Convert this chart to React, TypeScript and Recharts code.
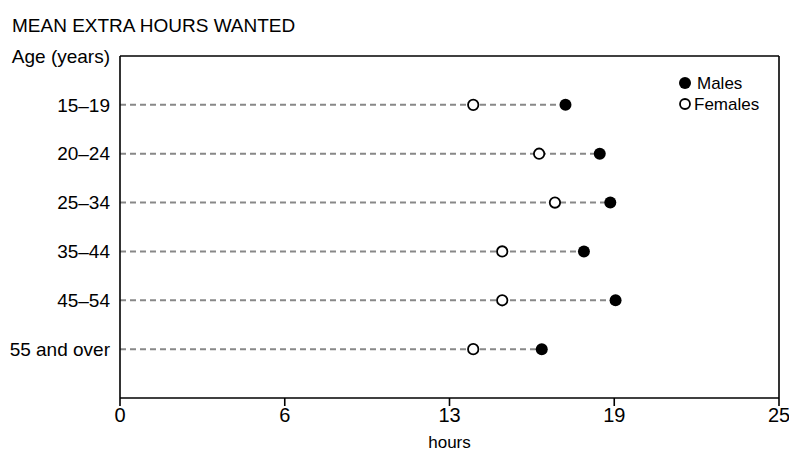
import React from 'react';
import { ScatterChart, Scatter, XAxis, YAxis, ReferenceLine, Legend } from 'recharts';

// values
const ageGroups = ['15–19', '20–24', '25–34', '35–44', '45–54', '55 and over'];
const malesHours = [16.9, 18.2, 18.6, 17.6, 18.8, 16.0];
const femalesHours = [13.4, 15.9, 16.5, 14.5, 14.5, 13.4];
const seriesNames = ['Males', 'Females'];
const hourTicks = [0, 6.25, 12.5, 18.75, 25];
const hourTickLabels = ['0', '6', '13', '19', '25'];
const ageAxisTitle = 'Age (years)';
const chartTitle = 'MEAN EXTRA HOURS WANTED';

const W = 789;
const H = 452;
const FONT = '"Liberation Sans", Arial, sans-serif';
const AXIS = { stroke: '#000', strokeWidth: 1.6 };

// row 0 holds the axis title, rows 1..n the age groups
const males = malesHours.map((hours, i) => ({ hours, row: i + 1 }));
const females = femalesHours.map((hours, i) => ({ hours, row: i + 1 }));
const rowTicks = [0, ...ageGroups.map((_, i) => i + 1)];

const MaleDot = (p: any) => <circle cx={p.cx} cy={p.cy} r={6} fill="#000" />;
const FemaleDot = (p: any) => (
    <circle cx={p.cx} cy={p.cy} r={5.2} fill="#fff" stroke="#000" strokeWidth={1.8} />
);

const LegendContent = (props: any) => {
    const items = [...(props.payload || [])].sort(
        (a: any, b: any) => seriesNames.indexOf(a.value) - seriesNames.indexOf(b.value)
    );
    return (
        <svg width={110} height={44} style={{ display: 'block' }}>
            {items.map((entry: any, i: number) => {
                const cy = 13 + i * 21;
                const isMale = entry.value === seriesNames[0];
                return (
                    <g key={entry.value}>
                        {isMale ? (
                            <circle cx={13} cy={cy} r={6} fill="#000" />
                        ) : (
                            <circle cx={13} cy={cy} r={5} fill="#fff" stroke="#000" strokeWidth={1.8} />
                        )}
                        <text
                            x={isMale ? 25 : 22}
                            y={cy}
                            dy="0.36em"
                            fontSize={17}
                            fontFamily={FONT}
                            fill="#000"
                        >
                            {entry.value}
                        </text>
                    </g>
                );
            })}
        </svg>
    );
};

export default function App() {
    return (
        <div style={{ position: 'absolute', left: 0, top: 0, width: W, height: H, background: '#fff' }}>
            <div
                style={{
                    position: 'absolute',
                    left: 12,
                    top: 16,
                    fontFamily: FONT,
                    fontSize: 19,
                    lineHeight: '20px',
                    color: '#000',
                    whiteSpace: 'nowrap',
                }}
            >
                {chartTitle}
            </div>
            <ScatterChart width={W} height={H} margin={{ top: 0, right: 9, bottom: 0, left: 0 }}>
                <XAxis
                    xAxisId="b"
                    type="number"
                    dataKey="hours"
                    domain={[0, 25]}
                    ticks={hourTicks}
                    tickFormatter={(_v: number, i: number) => hourTickLabels[i]}
                    height={54}
                    axisLine={AXIS}
                    tickLine={AXIS}
                    tickSize={8}
                    tickMargin={2}
                    tick={{ fill: '#000', fontSize: 20, fontFamily: FONT }}
                    label={{ value: 'hours', position: 'insideBottom', offset: 4, fill: '#000', fontSize: 17, fontFamily: FONT }}
                />
                <XAxis
                    xAxisId="t"
                    orientation="top"
                    type="number"
                    domain={[0, 25]}
                    ticks={hourTicks}
                    tickFormatter={() => ''}
                    height={56}
                    axisLine={AXIS}
                    tickLine={AXIS}
                    tickSize={9}
                />
                <YAxis
                    yAxisId="l"
                    type="number"
                    dataKey="row"
                    domain={[0, ageGroups.length + 1]}
                    ticks={rowTicks}
                    reversed
                    width={120}
                    axisLine={AXIS}
                    tickLine={false}
                    tickSize={8}
                    tickMargin={2}
                    tickFormatter={(v: number) => (v === 0 ? ageAxisTitle : ageGroups[v - 1])}
                    tick={{ fill: '#000', fontSize: 19, fontFamily: FONT }}
                />
                <YAxis
                    yAxisId="r"
                    orientation="right"
                    type="number"
                    domain={[0, ageGroups.length + 1]}
                    reversed
                    width={1}
                    axisLine={AXIS}
                    tickLine={false}
                    tick={false}
                />
                {males.map((d) => (
                    <ReferenceLine
                        key={d.row}
                        xAxisId="b"
                        yAxisId="l"
                        segment={[{ x: 0, y: d.row }, { x: d.hours, y: d.row }]}
                        stroke="#888"
                        strokeWidth={2}
                        strokeDasharray="6 4"
                    />
                ))}
                <Scatter
                    name={seriesNames[0]}
                    data={males}
                    xAxisId="b"
                    yAxisId="l"
                    shape={MaleDot}
                    isAnimationActive={false}
                />
                <Scatter
                    name={seriesNames[1]}
                    data={females}
                    xAxisId="b"
                    yAxisId="l"
                    shape={FemaleDot}
                    isAnimationActive={false}
                />
                <Legend
                    layout="horizontal"
                    verticalAlign="middle"
                    content={LegendContent}
                    wrapperStyle={{ left: 672, top: 70, width: 110, height: 44 }}
                />
            </ScatterChart>
        </div>
    );
}
